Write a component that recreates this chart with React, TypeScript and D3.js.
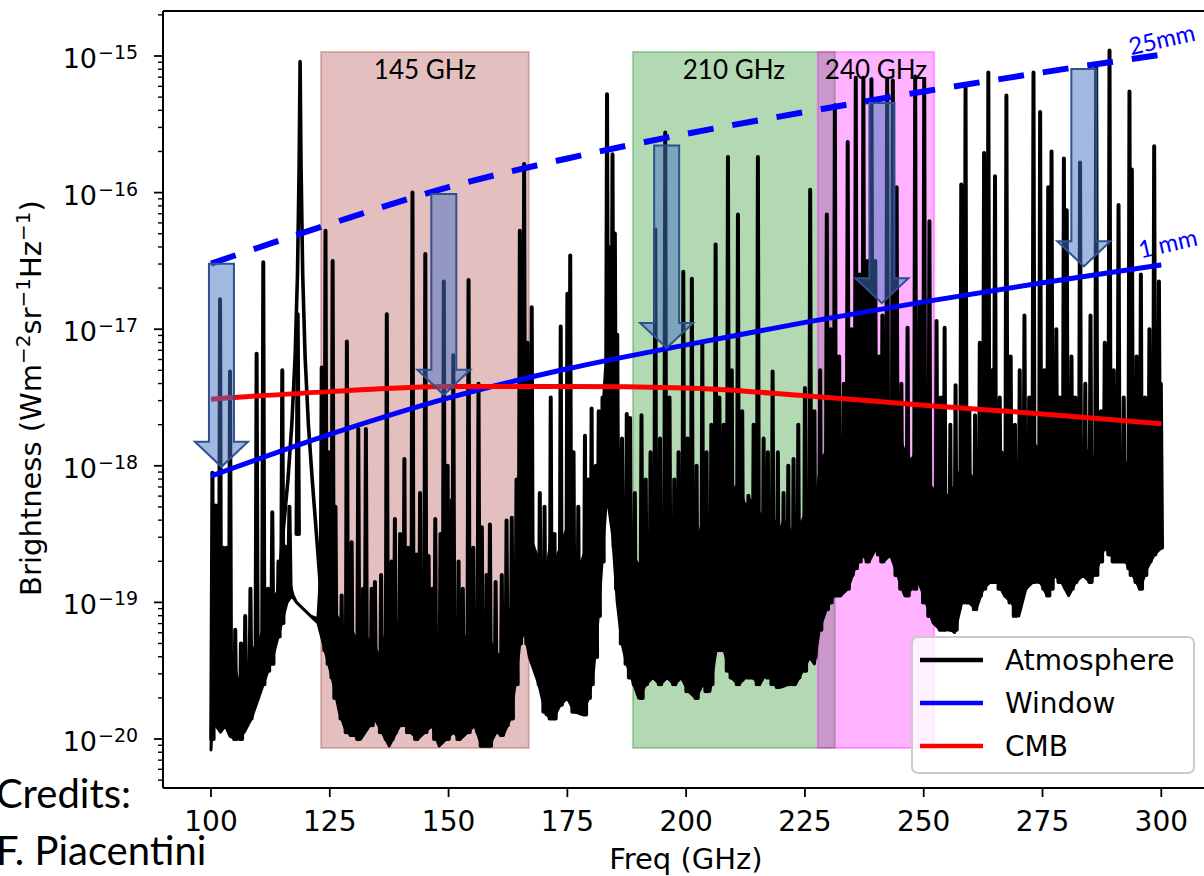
import React from "react";
import * as d3 from "d3";

// ---------- data (frequencies in GHz, brightness as log10 exponents) ----------
const freqTicks = [100, 125, 150, 175, 200, 225, 250, 275, 300];
const yTickExps = [-20, -19, -18, -17, -16, -15];

const curveFreqs = [100, 125, 150, 175, 200, 225, 250, 275, 300];
const windowLog = [-18.075, -17.77, -17.503, -17.29, -17.115, -16.95, -16.8, -16.66, -16.53];
const window25mmLog = [-16.52, -16.23, -15.96, -15.75, -15.57, -15.41, -15.26, -15.12, -14.99];
const cmbLog = [-17.512, -17.457, -17.42, -17.42, -17.43, -17.487, -17.556, -17.62, -17.693];

const bandNames = ["145 GHz", "210 GHz", "240 GHz"];
const bandLo = [123.15, 188.8, 227.7];
const bandHi = [166.9, 231.3, 252.2];
const bandColors = ["#a52a2a", "#008000", "#ff00ff"];
const bandBottomLog = -20.066;
const bandTopLog = -14.97;

const arrowFreq = [102.2, 149.0, 195.9, 241.2, 283.7];
const arrowTopLog = [-16.52, -16.01, -15.656, -15.344, -15.095];
const arrowTipLog = [-18.007, -17.48, -17.137, -16.81, -16.54];

const legendNames = ["Atmosphere", "Window", "CMB"];
const legendColors = ["#000000", "#0000ff", "#ff0000"];

// lower envelope of the atmospheric spectrum
const atmFloor: [number, number][] = [
  [100.0, -20.08], [100.4, -19.75], [101.0, -19.9], [102.0, -19.95], [103.0, -19.9], [104.0, -19.98],
  [105.5, -20.0], [107.0, -19.95], [108.5, -19.85], [110.0, -19.7], [111.5, -19.55], [113.0, -19.4],
  [114.5, -19.2], [116.0, -19.0], [117.0, -18.95], [118.0, -19.0], [119.5, -19.05], [121.0, -19.1],
  [122.5, -19.15], [124.0, -19.35], [125.5, -19.55], [127.0, -19.8], [128.5, -19.95], [130.0, -19.97],
  [131.5, -20.0], [133.0, -19.92], [134.5, -19.85], [136.0, -19.95], [137.5, -20.05], [139.0, -19.95],
  [140.5, -19.85], [142.0, -19.95], [143.5, -20.0], [145.0, -19.95], [146.5, -19.9], [148.0, -20.05],
  [149.5, -20.0], [151.0, -19.95], [152.5, -20.0], [154.0, -19.95], [155.5, -19.9], [157.0, -20.05],
  [158.5, -20.05], [160.0, -19.95], [161.5, -19.97], [163.0, -19.85], [164.0, -19.6], [165.0, -19.3],
  [166.0, -19.2], [167.0, -19.4], [168.0, -19.5], [169.0, -19.6], [170.5, -19.82], [172.0, -19.85],
  [173.5, -19.75], [175.0, -19.7], [176.5, -19.8], [178.0, -19.82], [179.5, -19.7], [180.5, -19.5],
  [181.5, -19.1], [182.5, -18.6], [183.3, -18.2], [184.5, -18.5], [185.5, -19.0], [186.5, -19.3],
  [187.5, -19.45], [188.5, -19.55], [190.0, -19.7], [191.5, -19.6], [193.0, -19.55], [194.5, -19.6],
  [196.0, -19.55], [197.5, -19.6], [199.0, -19.55], [200.5, -19.65], [202.0, -19.7], [203.5, -19.6],
  [205.0, -19.65], [206.5, -19.3], [208.0, -19.35], [209.5, -19.55], [211.0, -19.6], [212.5, -19.55],
  [214.0, -19.55], [215.5, -19.6], [217.0, -19.5], [218.5, -19.6], [220.0, -19.62], [221.5, -19.6],
  [223.0, -19.6], [224.5, -19.5], [226.0, -19.4], [227.0, -19.45], [228.0, -19.2], [229.5, -19.05],
  [231.0, -18.95], [232.5, -18.95], [234.0, -18.9], [235.5, -18.75], [237.0, -18.65], [238.5, -18.7],
  [240.0, -18.6], [241.5, -18.7], [243.0, -18.65], [244.5, -18.8], [246.0, -18.95], [247.5, -18.9],
  [249.0, -18.85], [250.5, -19.0], [252.0, -19.15], [253.5, -19.2], [255.0, -19.18], [256.5, -19.22],
  [258.0, -19.0], [259.5, -19.0], [261.0, -19.05], [262.5, -18.9], [264.0, -18.85], [265.5, -18.85],
  [267.0, -18.95], [268.5, -19.0], [270.0, -19.1], [271.5, -18.9], [273.0, -18.85], [274.5, -18.85],
  [276.0, -18.95], [277.5, -18.8], [279.0, -18.85], [280.5, -18.95], [282.0, -18.85], [283.5, -18.8],
  [285.0, -18.85], [286.5, -18.75], [288.0, -18.6], [289.5, -18.65], [291.0, -18.7], [292.5, -18.7],
  [294.0, -18.8], [295.5, -18.9], [297.0, -18.75], [298.5, -18.65], [300.0, -18.6],
];

// upper edge of the dense (solid black) part of the spectrum
const atmMassTop: [number, number][] = [
  [100.0, -20.08], [100.4, -19.2], [101.5, -19.1], [102.5, -19.2], [103.5, -19.3], [104.5, -19.4],
  [105.5, -19.55], [106.5, -19.6], [107.5, -19.5], [108.5, -19.4], [109.5, -19.3], [110.5, -19.25],
  [111.5, -19.15], [112.5, -19.05], [113.5, -18.95], [114.5, -18.9], [115.5, -18.85], [116.5, -18.85],
  [117.3, -18.95], [118.0, -19.0], [121.0, -19.1], [122.5, -19.12], [123.2, -18.7], [124.0, -18.8],
  [125.0, -19.0], [126.5, -19.1], [128.0, -19.2], [129.5, -19.2], [131.0, -19.3], [132.5, -19.25],
  [134.0, -19.3], [135.5, -19.4], [137.0, -19.2], [138.5, -19.1], [140.0, -19.25], [141.5, -19.3],
  [143.0, -19.25], [144.5, -19.3], [146.0, -19.4], [147.5, -19.3], [149.0, -19.2], [150.5, -19.15],
  [152.0, -19.3], [153.5, -19.25], [155.0, -19.3], [156.5, -19.2], [158.0, -19.2], [159.5, -19.35],
  [161.0, -19.4], [162.5, -19.2], [163.5, -18.95], [164.5, -18.65], [165.5, -18.35], [166.5, -18.45],
  [167.5, -18.55], [168.5, -18.65], [169.5, -18.75], [170.5, -18.8], [171.5, -18.55], [172.5, -18.7],
  [173.5, -18.6], [174.5, -18.5], [175.5, -18.4], [176.5, -18.65], [177.5, -18.75], [178.5, -18.65],
  [179.5, -18.55], [180.5, -18.35], [181.5, -18.05], [182.3, -17.7], [183.0, -17.3], [184.0, -17.2],
  [185.0, -17.4], [185.8, -17.95], [186.5, -18.4], [187.5, -18.5], [188.5, -18.65], [189.5, -18.7],
  [190.5, -18.75], [191.5, -18.7], [192.5, -18.55], [193.5, -18.6], [194.5, -18.6], [195.5, -18.5],
  [196.5, -18.55], [197.5, -18.6], [198.5, -18.45], [199.5, -18.5], [200.5, -18.45], [201.5, -18.5],
  [202.5, -18.55], [203.5, -18.4], [204.5, -18.5], [205.5, -18.45], [206.5, -18.2], [207.5, -18.15],
  [208.5, -18.2], [209.5, -18.25], [210.5, -18.15], [211.5, -18.2], [212.5, -18.3], [213.5, -18.25],
  [214.5, -18.3], [215.5, -18.35], [216.5, -18.4], [217.5, -18.35], [218.5, -18.4], [219.5, -18.5],
  [220.5, -18.4], [221.5, -18.45], [222.5, -18.5], [223.5, -18.45], [224.5, -18.4], [225.5, -18.3],
  [226.5, -18.4], [227.5, -18.2], [228.5, -17.95], [229.5, -17.9], [230.5, -17.85], [231.5, -17.9],
  [232.5, -17.85], [233.5, -17.8], [234.5, -17.8], [235.5, -17.75], [236.5, -17.65], [237.5, -17.7],
  [238.5, -17.65], [239.5, -17.7], [240.5, -17.65], [241.5, -17.7], [242.5, -17.75], [243.5, -17.65],
  [244.5, -17.75], [245.5, -17.85], [246.5, -17.95], [247.5, -17.95], [248.5, -17.9], [249.5, -17.95],
  [250.5, -18.05], [251.5, -18.15], [252.5, -18.2], [253.5, -18.15], [254.5, -18.25], [255.5, -18.2],
  [256.5, -18.15], [257.5, -18.05], [258.5, -18.0], [259.5, -18.05], [260.5, -18.1], [261.5, -18.0],
  [262.5, -17.9], [263.5, -17.85], [264.5, -17.9], [265.5, -17.95], [266.5, -17.9], [267.5, -17.95],
  [268.5, -18.05], [269.5, -18.1], [270.5, -18.0], [271.5, -17.95], [272.5, -17.9], [273.5, -17.85],
  [274.5, -17.9], [275.5, -17.95], [276.5, -17.9], [277.5, -17.85], [278.5, -17.9], [279.5, -17.95],
  [280.5, -17.9], [281.5, -17.85], [282.5, -17.8], [283.5, -17.85], [284.5, -17.9], [285.5, -17.95],
  [286.5, -17.9], [287.5, -17.85], [288.5, -17.8], [289.5, -17.85], [290.5, -17.9], [291.5, -17.95],
  [292.5, -18.0], [293.5, -17.95], [294.5, -17.9], [295.5, -17.85], [296.5, -17.8], [297.5, -17.75],
  [298.5, -17.8], [299.5, -17.8], [300.0, -18.6],
];

// narrow lines: [freq, peak exponent, base exponent]
const atmPeaks: [number, number, number][] = [
  [100.3, -18.05, -20.0], [101.0, -18.29, -19.9], [101.9, -16.78, -19.9], [102.6, -18.6, -19.9],
  [103.3, -18.6, -19.9], [104.0, -17.31, -19.9], [105.1, -19.2, -20.0], [106.3, -19.3, -20.0],
  [107.2, -19.1, -19.9], [108.3, -18.9, -19.85], [109.6, -17.18, -19.7], [111.0, -16.51, -19.6],
  [112.0, -18.9, -19.5], [112.9, -18.34, -19.45], [114.2, -18.7, -19.25], [115.0, -17.3, -19.15],
  [115.6, -18.59, -19.0], [116.5, -18.3, -18.9], [118.25, -16.89, -18.5],
  [123.3, -17.28, -19.2], [124.1, -16.28, -19.35], [124.8, -17.9, -19.45], [125.6, -16.5, -19.55],
  [126.2, -18.3, -19.7], [127.5, -18.95, -19.85], [128.6, -17.09, -19.95], [129.6, -18.56, -19.97],
  [131.0, -17.73, -20.0], [132.0, -18.9, -19.95], [132.6, -17.73, -19.92], [133.8, -18.9, -19.9],
  [134.5, -18.85, -19.85], [135.8, -18.8, -19.95], [137.0, -16.89, -20.0], [138.0, -18.7, -20.0],
  [138.7, -18.39, -19.95], [139.8, -18.5, -19.9], [140.7, -17.95, -19.9], [141.5, -18.6, -19.95],
  [142.4, -16.0, -19.95], [143.2, -18.65, -20.0], [144.0, -18.2, -19.95], [145.1, -16.45, -19.95],
  [145.8, -18.66, -19.9], [146.6, -18.9, -19.9], [147.2, -18.39, -20.0], [148.3, -18.5, -20.0],
  [149.0, -16.65, -20.0], [149.8, -18.0, -20.0], [150.7, -18.25, -19.95], [151.0, -17.19, -19.95],
  [152.1, -18.7, -20.0], [153.0, -18.9, -19.95], [154.2, -16.64, -19.95], [155.2, -18.6, -19.9],
  [156.3, -17.4, -19.95], [157.0, -18.45, -20.05], [158.0, -18.8, -20.05], [158.7, -18.43, -20.05],
  [159.9, -18.85, -19.95], [161.2, -18.8, -19.97], [162.2, -18.4, -19.9], [163.3, -18.38, -19.85],
  [164.3, -18.1, -19.6], [165.0, -16.28, -19.3], [165.9, -15.79, -19.2], [166.6, -17.1, -19.3],
  [167.5, -16.84, -19.4],
  [169.2, -18.2, -19.6], [170.2, -18.3, -19.8], [171.5, -17.5, -19.85], [172.3, -18.5, -19.85],
  [173.6, -16.98, -19.75], [175.0, -16.74, -19.7], [175.6, -16.46, -19.7], [176.3, -17.9, -19.8],
  [177.3, -18.3, -19.8], [178.7, -17.78, -19.82], [179.5, -18.1, -19.7], [180.1, -17.58, -19.6],
  [181.0, -18.0, -19.4], [181.6, -17.6, -19.1], [182.4, -17.5, -18.7], [183.35, -15.28, -18.2],
  [183.8, -16.4, -18.2], [184.5, -15.72, -18.4], [185.0, -16.3, -18.6], [185.5, -17.04, -18.9],
  [186.5, -17.8, -19.3], [187.5, -17.62, -19.45], [188.2, -17.65, -19.55], [189.2, -18.2, -19.6],
  [190.6, -17.63, -19.7], [191.5, -18.1, -19.6], [192.5, -17.9, -19.55], [193.5, -16.27, -19.55],
  [194.5, -17.8, -19.6], [195.6, -15.56, -19.55], [196.5, -17.5, -19.55], [197.5, -18.1, -19.6],
  [198.4, -17.9, -19.55], [199.4, -16.58, -19.55], [200.3, -17.8, -19.65], [201.2, -16.63, -19.65],
  [202.2, -18.0, -19.7], [203.4, -17.11, -19.6], [204.3, -17.9, -19.65], [205.3, -17.7, -19.6],
  [206.2, -16.38, -19.3], [207.0, -17.5, -19.35], [207.9, -17.7, -19.35], [208.8, -15.74, -19.5],
  [209.6, -17.3, -19.55], [210.9, -16.16, -19.6], [211.8, -17.6, -19.55], [213.1, -18.22, -19.55],
  [214.2, -17.7, -19.55], [215.1, -15.74, -19.6], [216.3, -17.8, -19.5], [217.2, -17.9, -19.55],
  [218.2, -17.31, -19.6], [219.3, -17.9, -19.62], [220.5, -18.2, -19.6], [221.5, -18.0, -19.6],
  [222.6, -17.95, -19.6], [223.6, -17.7, -19.55], [225.0, -17.43, -19.5], [226.1, -15.98, -19.4],
  [227.0, -17.6, -19.4],
  [228.2, -17.3, -19.2], [229.6, -16.16, -19.05], [230.4, -17.0, -19.0], [231.3, -15.36, -18.95],
  [232.2, -17.2, -18.95], [233.2, -17.4, -18.9], [234.0, -15.63, -18.9], [234.8, -17.0, -18.8],
  [235.7, -15.16, -18.75], [236.5, -16.6, -18.7], [237.3, -15.16, -18.65], [238.2, -16.5, -18.7],
  [239.0, -15.17, -18.6], [239.8, -16.5, -18.6], [240.6, -17.2, -18.65], [241.3, -16.9, -18.7],
  [242.3, -15.17, -18.65], [243.5, -15.18, -18.65], [244.3, -15.96, -18.8], [245.3, -17.4, -18.9],
  [246.6, -16.99, -18.95], [248.2, -15.15, -18.9], [249.2, -16.8, -18.85], [250.1, -15.17, -19.0],
  [251.2, -16.21, -19.1], [252.7, -16.94, -19.15], [253.6, -17.5, -19.2], [254.4, -16.99, -19.2],
  [255.6, -17.7, -19.2], [256.7, -17.41, -19.2], [257.9, -15.94, -19.0], [258.8, -15.23, -19.0],
  [259.6, -17.6, -19.0], [260.8, -17.63, -19.05], [261.8, -17.1, -18.95], [262.7, -15.71, -18.9],
  [263.6, -15.12, -18.85], [264.4, -17.3, -18.85], [265.0, -15.88, -18.85], [266.0, -17.5, -18.9],
  [267.4, -15.29, -18.95], [268.3, -17.2, -19.0], [269.2, -17.7, -19.1], [270.2, -17.3, -19.0],
  [271.2, -16.9, -18.9], [272.2, -17.5, -18.85], [273.1, -15.12, -18.85], [274.5, -15.41, -18.85],
  [275.4, -17.3, -18.9], [276.2, -15.96, -18.95], [276.9, -15.7, -18.9], [277.9, -17.0, -18.8],
  [278.6, -17.5, -18.85], [279.5, -15.75, -18.85], [280.1, -16.13, -18.9], [281.1, -17.2, -18.9],
  [281.9, -17.5, -18.85], [282.9, -15.78, -18.8], [284.0, -17.4, -18.8], [285.1, -16.9, -18.85],
  [286.3, -15.08, -18.8], [287.3, -17.6, -18.7], [288.1, -17.1, -18.6], [289.1, -14.96, -18.65],
  [290.0, -17.3, -18.7], [291.0, -16.09, -18.7], [292.1, -17.5, -18.7], [293.3, -15.26, -18.75],
  [293.8, -15.83, -18.8], [294.8, -17.2, -18.85], [295.7, -16.6, -18.9], [296.6, -17.5, -18.8],
  [297.5, -17.0, -18.7], [298.5, -15.66, -18.65], [299.5, -16.65, -18.6], [299.9, -17.4, -18.6],
];

// pressure-broadened oxygen line near 118.75 GHz
const o2Line: [number, number][] = [
  [113.5, -19.2], [115.0, -18.55], [116.2, -18.1], [117.0, -17.7], [117.7, -17.2], [118.2, -16.6],
  [118.55, -15.8], [118.75, -15.04], [118.95, -15.8], [119.3, -16.6], [119.8, -17.2], [120.5, -17.7],
  [121.3, -18.1], [122.3, -18.55], [123.5, -19.1],
];

export default function App() {
  const W = 1204;
  const H = 876;
  const x = d3.scaleLinear().domain([100, 300]).range([211, 1161.3]);
  const y = d3.scaleLog().domain([1e-20, 1e-15]).range([739, 56]);
  const Y = (e: number) => y(Math.pow(10, e));

  const left = 163;
  const top = 11;
  const bottom = 788;
  const right = x(310);

  const dv = "'DejaVu Sans', Verdana, sans-serif";
  const slideFont = "Lato, 'Open Sans', sans-serif";

  const massPts: [number, number][] = [
    ...atmMassTop.map(([f, e]) => [x(f), Y(e)] as [number, number]),
    ...atmFloor.slice().reverse().map(([f, e]) => [x(f), Y(e)] as [number, number]),
  ];
  const massPath = (d3.line()(massPts) || "") + "Z";

  const spikes = atmPeaks
    .map(([f, t, b]) => {
      const cx = x(f);
      return `M${cx - 1.2},${Y(b)}L${cx},${Y(t)}L${cx + 1.2},${Y(b)}`;
    })
    .join("");

  const o2Path = d3.line<[number, number]>().x((d) => x(d[0])).y((d) => Y(d[1]))(o2Line) || "";

  const curve = (vals: number[]) =>
    d3
      .line<number>()
      .x((_, i) => x(curveFreqs[i]))
      .y((v) => Y(v))
      .curve(d3.curveMonotoneX)(vals) || "";

  const minor: number[] = [];
  for (let k = -21; k <= -15; k++) {
    for (let m = 2; m <= 9; m++) {
      const py = y(m * Math.pow(10, k));
      if (py >= top && py <= bottom) minor.push(py);
    }
  }

  const shaftHalf = 12.5;
  const headHalf = 26.5;
  const headH = 25;
  const arrows = arrowFreq.map((f, i) => {
    const cx = x(f);
    const ty = Y(arrowTopLog[i]);
    const tip = Y(arrowTipLog[i]);
    const hy = tip - headH;
    return `M${cx - shaftHalf},${ty}L${cx + shaftHalf},${ty}L${cx + shaftHalf},${hy}L${cx + headHalf},${hy}L${cx},${tip}L${cx - headHalf},${hy}L${cx - shaftHalf},${hy}Z`;
  });

  const legendX = 912;
  const legendY = 637;

  return (
    <svg
      width={W}
      height={H}
      viewBox={`0 0 ${W} ${H}`}
      style={{ position: "absolute", left: 0, top: 0, background: "#fff" }}
    >
      <defs>
        <clipPath id="plotclip">
          <rect x={left} y={top} width={right - left} height={bottom - top} />
        </clipPath>
      </defs>
      <rect x={0} y={0} width={W} height={H} fill="#fff" />

      <g clipPath="url(#plotclip)">
        {bandNames.map((n, i) => (
          <rect
            key={n}
            x={x(bandLo[i])}
            y={Y(bandTopLog)}
            width={x(bandHi[i]) - x(bandLo[i])}
            height={Y(bandBottomLog) - Y(bandTopLog)}
            fill={bandColors[i]}
            fillOpacity={0.3}
            stroke={bandColors[i]}
            strokeOpacity={0.3}
            strokeWidth={2}
          />
        ))}

        <path d={massPath} fill="#000" stroke="#000" strokeWidth={3} strokeLinejoin="round" />
        <path d={spikes} fill="none" stroke="#000" strokeWidth={4} strokeLinejoin="round" strokeLinecap="round" />
        <path d={o2Path} fill="none" stroke="#000" strokeWidth={3.6} strokeLinejoin="round" />

        <path d={curve(windowLog)} fill="none" stroke="#0000ff" strokeWidth={5} />
        <path d={curve(window25mmLog)} fill="none" stroke="#0000ff" strokeWidth={6} strokeDasharray="26 19" />
        <path d={curve(cmbLog)} fill="none" stroke="#ff0000" strokeWidth={5} />
      </g>

      {arrows.map((d, i) => (
        <path key={i} d={d} fill="#4472c4" fillOpacity={0.5} stroke="#2f528f" strokeWidth={2} />
      ))}

      {bandNames.map((n, i) => (
        <text
          key={n}
          x={x((bandLo[i] + bandHi[i]) / 2)}
          y={79}
          textAnchor="middle"
          fontFamily={slideFont}
          fontSize={26}
          fill="#000"
        >
          {n}
        </text>
      ))}

      <text x={1162} y={48} textAnchor="middle" fontFamily={slideFont} fontSize={24} fill="#0000ff" transform="rotate(-13 1162 40)">
        25mm
      </text>
      <text x={1168} y={252} textAnchor="middle" fontFamily={slideFont} fontSize={24} fill="#0000ff" transform="rotate(-13 1168 244)">
        1 mm
      </text>

      <line x1={left} y1={top} x2={left} y2={bottom} stroke="#000" strokeWidth={2} />
      <line x1={left} y1={bottom} x2={right} y2={bottom} stroke="#000" strokeWidth={2} />
      <line x1={left} y1={top} x2={right} y2={top} stroke="#000" strokeWidth={2} />
      <line x1={right} y1={top} x2={right} y2={bottom} stroke="#000" strokeWidth={2} />

      {freqTicks.map((t) => (
        <g key={t}>
          <line x1={x(t)} x2={x(t)} y1={bottom} y2={bottom + 9} stroke="#000" strokeWidth={1.8} />
          <text x={x(t)} y={831} textAnchor="middle" fontFamily={dv} fontSize={28} fill="#000">
            {t}
          </text>
        </g>
      ))}
      <text x={(left + right) / 2} y={869} textAnchor="middle" fontFamily={dv} fontSize={29} fill="#000">
        Freq (GHz)
      </text>

      {minor.map((py, i) => (
        <line key={i} x1={left - 5} x2={left} y1={py} y2={py} stroke="#000" strokeWidth={1.4} />
      ))}
      {yTickExps.map((e) => (
        <g key={e}>
          <line x1={left - 9} x2={left} y1={Y(e)} y2={Y(e)} stroke="#000" strokeWidth={1.8} />
          <text x={97} y={Y(e) + 12} textAnchor="end" fontFamily={dv} fontSize={27} fill="#000">
            10
          </text>
          <text x={98} y={Y(e) + 3} textAnchor="start" fontFamily={dv} fontSize={19} fill="#000">
            {"\u2212" + Math.abs(e)}
          </text>
        </g>
      ))}

      <text transform="translate(41,398) rotate(-90)" textAnchor="middle" fontFamily={dv} fontSize={29} fill="#000">
        <tspan>Brightness (Wm</tspan>
        <tspan dy={-11} fontSize={20}>{"\u22122"}</tspan>
        <tspan dy={11}>sr</tspan>
        <tspan dy={-11} fontSize={20}>{"\u22121"}</tspan>
        <tspan dy={11}>Hz</tspan>
        <tspan dy={-11} fontSize={20}>{"\u22121"}</tspan>
        <tspan dy={11}>)</tspan>
      </text>

      <rect
        x={legendX}
        y={legendY}
        width={282}
        height={136}
        rx={6}
        fill="#fff"
        fillOpacity={0.8}
        stroke="#cccccc"
        strokeWidth={2}
      />
      {legendNames.map((n, i) => {
        const ly = 660 + i * 43;
        return (
          <g key={n}>
            <line x1={920} x2={983} y1={ly} y2={ly} stroke={legendColors[i]} strokeWidth={4.5} />
            <text x={1005} y={ly + 10} fontFamily={dv} fontSize={28} fill="#000">
              {n}
            </text>
          </g>
        );
      })}

      <text x={-4} y={808} fontFamily={slideFont} fontSize={40} fill="#000">
        Credits:
      </text>
      <text x={-4} y={865} fontFamily={slideFont} fontSize={40} fill="#000">
        F. Piacentini
      </text>
    </svg>
  );
}
